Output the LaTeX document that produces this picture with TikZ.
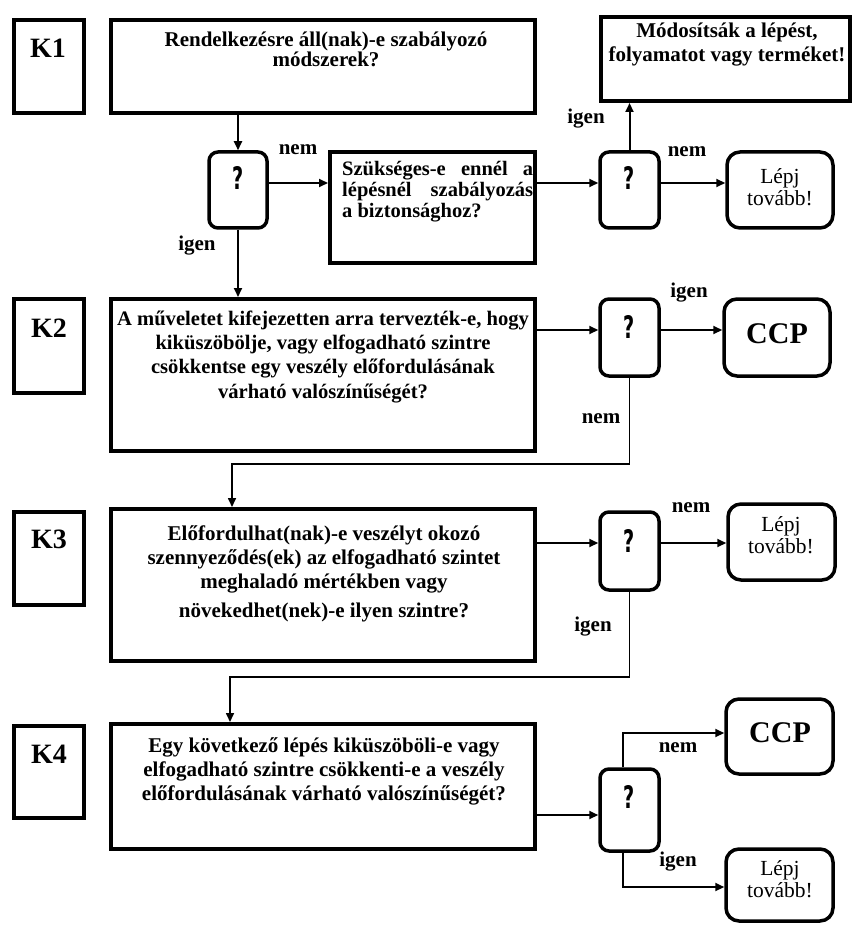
\documentclass[tikz,border=0pt]{standalone}
\usepackage{fontspec}
\setmainfont{Liberation Serif}
\newfontfamily\qfont{DejaVu Sans}
\usetikzlibrary{arrows.meta,fit}
\tikzset{
  mainbox/.style={draw, line width=4pt, inner sep=0pt},
  dbox/.style={draw, line width=3.5pt, rounded corners=9pt, inner sep=0pt},
  rbox/.style={draw, line width=3.5pt, rounded corners=13pt, inner sep=0pt},
  arr/.style={line width=2pt, -{Triangle[length=9pt,width=8pt]}},
  thinarr/.style={line width=1.6pt, -{Triangle[length=9pt,width=8pt]}},
  lbl/.style={font=\fontsize{21}{24}\selectfont\bfseries, inner sep=0pt, anchor=base},
  txt/.style={align=center, inner sep=0pt, anchor=base},
  klbl/.style={font=\fontsize{28}{30}\selectfont\bfseries, inner sep=0pt, anchor=base},
  ccp/.style={font=\fontsize{30}{32}\selectfont\bfseries, inner sep=0pt, anchor=base},
  lep/.style={font=\fontsize{21.5}{22}\selectfont, align=center, inner sep=0pt, anchor=base},
  qm/.style={font=\qfont\bfseries\fontsize{31}{31}\selectfont, inner sep=0pt, anchor=base},
}
\newcommand{\qmark}{\scalebox{0.62}[1]{?}}
\begin{document}
\begin{tikzpicture}[x=1pt,y=-1pt]
\useasboundingbox (0,0) rectangle (853,925);
% ---------- boxes ----------
\node[mainbox, fit={(14,20) (84,113)}] (K1) {};
\node[mainbox, fit={(111,20) (535,113)}] (Q1) {};
\node[dbox, fit={(209,152) (267,228)}] (D1) {};
\node[mainbox, fit={(330,152) (535,263)}] (Szuk) {};
\node[dbox, fit={(600,152) (659,228)}] (D2) {};
\node[mainbox, fit={(601,17) (850,101)}] (Mod) {};
\node[rbox, fit={(727,152) (833,228)}] (Lep1) {};

\node[mainbox, fit={(14,299) (84,393)}] (K2) {};
\node[mainbox, fit={(111,299) (535,451)}] (Q2) {};
\node[dbox, fit={(600,299) (659,376)}] (D3) {};
\node[rbox, fit={(724,299) (830,376)}] (CCP1) {};

\node[mainbox, fit={(14,512) (84,605)}] (K3) {};
\node[mainbox, fit={(111,509) (535,661)}] (Q3) {};
\node[dbox, fit={(600,512) (659,590)}] (D4) {};
\node[rbox, fit={(728,504) (835,580)}] (Lep2) {};

\node[mainbox, fit={(14,726) (84,818)}] (K4) {};
\node[mainbox, fit={(111,724) (535,849)}] (Q4) {};
\node[dbox, fit={(600,769) (659,851)}] (D5) {};
\node[rbox, fit={(726,699) (833,774)}] (CCP2) {};
\node[rbox, fit={(726,849) (833,921)}] (Lep3) {};

% ---------- texts (multi-line nodes: base = last line) ----------
\node[klbl] (k1t) at (48,58) {K1};
\node[klbl] (k2t) at (49,337) {K2};
\node[klbl] (k3t) at (49,548) {K3};
\node[klbl] (k4t) at (49,763) {K4};

\node[txt, font=\fontsize{21}{20}\selectfont\bfseries] (q1t) at (326,67) {Rendelkezésre áll(nak)-e szabályozó\\módszerek?};
\node[inner sep=0pt, anchor=base west, text width=191pt, align=justify, font=\fontsize{20.5}{21}\selectfont\bfseries] (szt) at (342,176) {Szükséges-e ennél a\linebreak lépésnél szabályozás\linebreak a biztonsághoz?};
\node[txt, font=\fontsize{21}{24}\selectfont\bfseries] (modt) at (727,62) {Módosítsák a lépést,\\folyamatot vagy terméket!};
\node[lep] (l1t) at (780,206) {Lépj\\tovább!};

\node[txt, font=\fontsize{20.6}{24.3}\selectfont\bfseries] (q2t) at (323,398) {A műveletet kifejezetten arra tervezték-e, hogy\\kiküszöbölje, vagy elfogadható szintre\\csökkentse egy veszély előfordulásának\\várható valószínűségét?};
\node[ccp] (c1t) at (777,343) {CCP};

\node[txt, font=\fontsize{21}{24.3}\selectfont\bfseries] (q3t) at (324,617) {Előfordulhat(nak)-e veszélyt okozó\\szennyeződés(ek) az elfogadható szintet\\meghaladó mértékben vagy\\[4pt]növekedhet(nek)-e ilyen szintre?};
\node[lep] (l2t) at (781,553) {Lépj\\tovább!};

\node[txt, font=\fontsize{21}{24}\selectfont\bfseries] (q4t) at (324,800) {Egy következő lépés kiküszöböli-e vagy\\elfogadható szintre csökkenti-e a veszély\\előfordulásának várható valószínűségét?};
\node[ccp] (c2t) at (780,742) {CCP};
\node[lep] (l3t) at (780,897) {Lépj\\tovább!};

% question marks
\node[qm] (qm1) at (238,190) {\qmark};
\node[qm] (qm2) at (629.5,190) {\qmark};
\node[qm] (qm3) at (629.5,338) {\qmark};
\node[qm] (qm4) at (629.5,552) {\qmark};
\node[qm] (qm5) at (629.5,808) {\qmark};

% ---------- connectors ----------
\coordinate (r1) at (0,183);
\coordinate (r2) at (0,330);
\coordinate (r3) at (0,543);
\coordinate (r4) at (0,815);
\coordinate (r5) at (0,733);
\coordinate (r6) at (0,887);
\coordinate (c3) at (232,464);
\coordinate (c4) at (230,677);
\coordinate (c5) at (623,0);

\draw[arr] (D1.north |- Q1.south) -- (D1.north);
\draw[arr] (D1.east |- r1) -- (Szuk.west |- r1);
\draw[arr] (Szuk.east |- r1) -- (D2.west |- r1);
\draw[arr] (D2.east |- r1) -- (Lep1.west |- r1);
\draw[arr] (D2.north) -- (D2.north |- Mod.south);
\draw[arr] (D1.south) -- (D1.south |- Q2.north);

\draw[arr] (Q2.east |- r2) -- (D3.west |- r2);
\draw[arr] (D3.east |- r2) -- (CCP1.west |- r2);
\draw[thinarr] (D3.south) |- (c3) -- (c3 |- Q3.north);

\draw[arr] (Q3.east |- r3) -- (D4.west |- r3);
\draw[arr] (D4.east |- r3) -- (Lep2.west |- r3);
\draw[thinarr] (D4.south) |- (c4) -- (c4 |- Q4.north);

\draw[arr] (Q4.east |- r4) -- (D5.west |- r4);
\draw[arr] (c5 |- D5.north) -- (c5 |- r5) -- (CCP2.west |- r5);
\draw[arr] (c5 |- D5.south) -- (c5 |- r6) -- (Lep3.west |- r6);

% ---------- labels ----------
\node[lbl] (n1) at (298,155) {nem};
\node[lbl] (i1) at (197,250) {igen};
\node[lbl] (i2) at (586,124) {igen};
\node[lbl] (n2) at (687,157) {nem};
\node[lbl] (i3) at (689,297) {igen};
\node[lbl] (n3) at (601,423) {nem};
\node[lbl] (n4) at (691,512) {nem};
\node[lbl] (i4) at (593,631) {igen};
\node[lbl] (n5) at (678,752) {nem};
\node[lbl] (i5) at (678,866) {igen};
\end{tikzpicture}
\end{document}
